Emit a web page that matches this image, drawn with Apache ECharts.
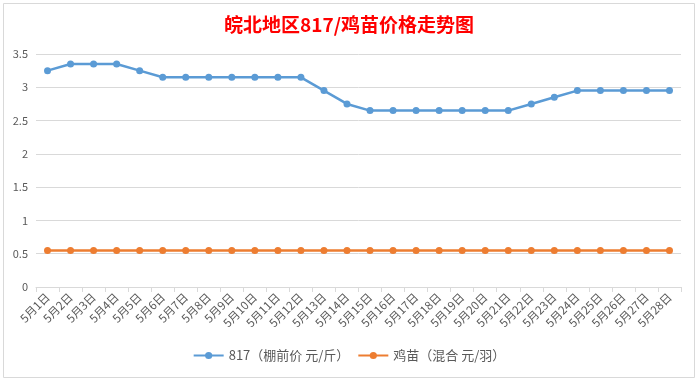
<!DOCTYPE html>
<html><head><meta charset="utf-8">
<script src="https://cdn.jsdelivr.net/npm/echarts@6/dist/echarts.min.js"></script>
<style>html,body{margin:0;padding:0;background:#fff}#c{width:698px;height:381px}</style>
</head><body><div id="c"></div>
<script>
const categories = ["5月1日","5月2日","5月3日","5月4日","5月5日","5月6日","5月7日","5月8日","5月9日","5月10日","5月11日","5月12日","5月13日","5月14日","5月15日","5月16日","5月17日","5月18日","5月19日","5月20日","5月21日","5月22日","5月23日","5月24日","5月25日","5月26日","5月27日","5月28日"];
const price817 = [3.25,3.35,3.35,3.35,3.25,3.15,3.15,3.15,3.15,3.15,3.15,3.15,2.95,2.75,2.65,2.65,2.65,2.65,2.65,2.65,2.65,2.75,2.85,2.95,2.95,2.95,2.95,2.95];
const chick = [0.55,0.55,0.55,0.55,0.55,0.55,0.55,0.55,0.55,0.55,0.55,0.55,0.55,0.55,0.55,0.55,0.55,0.55,0.55,0.55,0.55,0.55,0.55,0.55,0.55,0.55,0.55,0.55];
const seriesNames = ["817（棚前价 元/斤）","鸡苗（混合 元/羽）"];
const titleText = "皖北地区817/鸡苗价格走势图";

const chart = echarts.init(document.getElementById('c'));
const font = '"Microsoft YaHei","Noto Sans CJK SC",sans-serif';
chart.setOption({
  animation:false,
  textStyle:{fontFamily:font},
  title:{text:titleText,left:'center',top:10,textStyle:{color:'#ff0000',fontSize:19,fontWeight:'bold',fontFamily:font}},
  graphic:[{type:'rect',shape:{x:3.5,y:3.5,width:691,height:374},style:{fill:'none',stroke:'#d9d9d9',lineWidth:1},silent:true}],
  grid:{left:36,right:17,top:54,bottom:94},
  legend:{bottom:14,left:'center',itemWidth:30,itemHeight:9,itemGap:8,textStyle:{color:'#595959',fontSize:13,fontFamily:font},data:seriesNames},
  xAxis:{type:'category',data:categories,boundaryGap:true,
    axisLine:{lineStyle:{color:'#d9d9d9'}},
    axisTick:{show:true,lineStyle:{color:'#d9d9d9'},length:5},
    axisLabel:{rotate:45,color:'#595959',fontSize:11.5,interval:0,margin:8}},
  yAxis:{type:'value',min:0,max:3.5,interval:0.5,
    axisLine:{show:false},axisTick:{show:false},
    splitLine:{lineStyle:{color:'#d9d9d9'}},
    axisLabel:{color:'#595959',fontSize:11,margin:8}},
  series:[
    {name:seriesNames[0],type:'line',data:price817,symbol:'circle',symbolSize:7,
     lineStyle:{color:'#5b9bd5',width:2.5},itemStyle:{color:'#5b9bd5'}},
    {name:seriesNames[1],type:'line',data:chick,symbol:'circle',symbolSize:7,
     lineStyle:{color:'#ed7d31',width:2.5},itemStyle:{color:'#ed7d31'}}
  ]
});
</script></body></html>
